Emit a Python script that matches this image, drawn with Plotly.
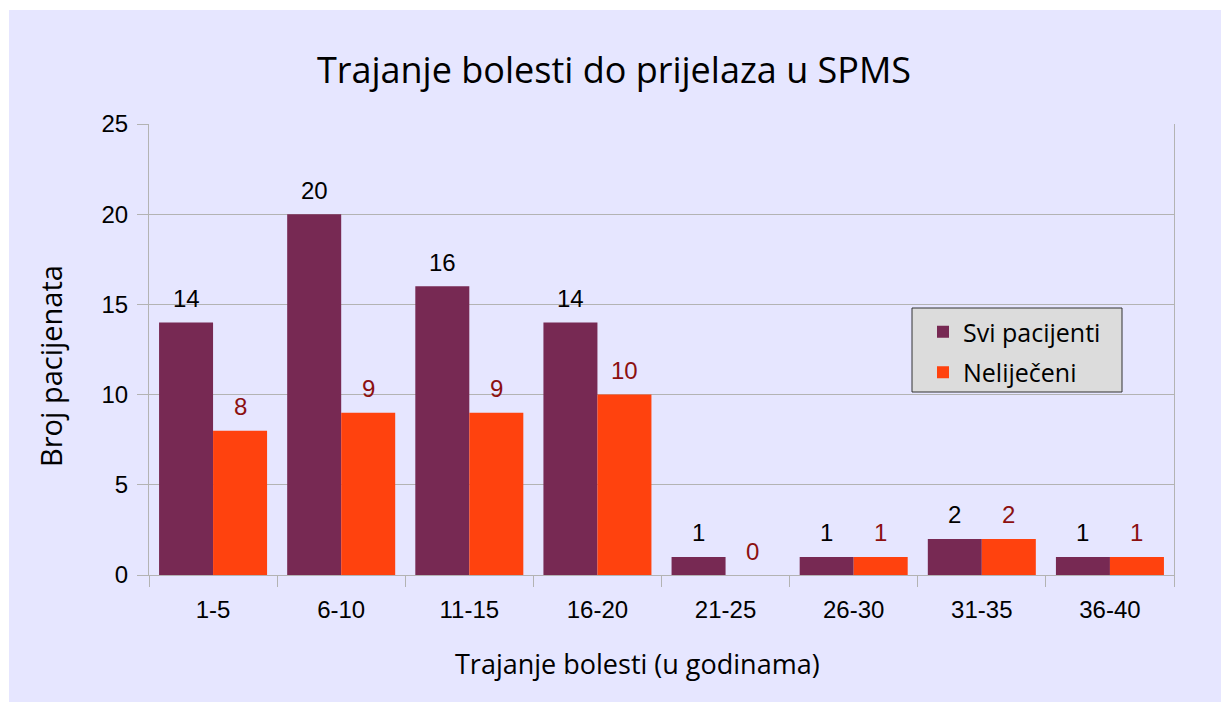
import plotly.graph_objects as go

categories = ["1-5", "6-10", "11-15", "16-20", "21-25", "26-30", "31-35", "36-40"]
svi_pacijenti = [14, 20, 16, 14, 1, 1, 2, 1]
nelijeceni = [8, 9, 9, 10, 0, 1, 2, 1]
series_names = ["Svi pacijenti", "Neliječeni"]
y_ticks = [0, 5, 10, 15, 20, 25]

W, H = 1221, 702
L, R, T, B = 149, 1221 - 1174, 124, 702 - 575
pw, ph = W - L - R, H - T - B

BG = "#E6E6FF"
C1 = "#772953"
C2 = "#FF420E"
GRID = "#B3B3B3"


def px_x(p):
    return (p - L) / pw


def px_y(p):
    return (H - B - p) / ph


fig = go.Figure()
fig.add_trace(go.Bar(x=categories, y=svi_pacijenti, name=series_names[0], legendgroup="a",
                     marker=dict(color=C1, line=dict(width=0))))
fig.add_trace(go.Bar(x=categories, y=nelijeceni, name=series_names[1], legendgroup="b",
                     marker=dict(color=C2, line=dict(width=0))))

annotations = []
half = pw / len(categories) * (1 - 0.157) / 4
for vals, col, sh in [(svi_pacijenti, "#000000", -half), (nelijeceni, "#8C1010", half)]:
    for c, v in zip(categories, vals):
        annotations.append(dict(x=c, y=v, xref="x", yref="y", text=str(v), showarrow=False,
                                xshift=sh, yshift=24, yanchor="middle",
                                font=dict(family="Liberation Sans", size=24, color=col)))

annotations.append(dict(x=px_x(637), y=px_y(663), xref="paper", yref="paper",
                        text="Trajanje bolesti (u godinama)", showarrow=False,
                        xanchor="center", yanchor="middle",
                        font=dict(family="Open Sans", size=27, color="#000000")))
annotations.append(dict(x=px_x(50), y=px_y(366), xref="paper", yref="paper",
                        text="Broj pacijenata", showarrow=False, textangle=-90,
                        xanchor="center", yanchor="middle",
                        font=dict(family="Open Sans", size=29, color="#000000")))

shapes = [
    # white page strips on the left and top
    dict(type="rect", xref="paper", yref="paper", layer="below",
         x0=px_x(-20), x1=px_x(9), y0=px_y(720), y1=px_y(-20),
         fillcolor="#FFFFFF", line=dict(width=0)),
    dict(type="rect", xref="paper", yref="paper", layer="below",
         x0=px_x(-20), x1=px_x(1240), y0=px_y(10), y1=px_y(-20),
         fillcolor="#FFFFFF", line=dict(width=0)),
    # legend box
    dict(type="rect", xref="paper", yref="paper", layer="above",
         x0=px_x(912), x1=px_x(1122), y0=px_y(392), y1=px_y(308),
         fillcolor="#DCDCDC", line=dict(width=1, color="#333333")),
]

fig.update_layout(
    width=W, height=H,
    margin=dict(l=L, r=R, t=T, b=B, pad=0),
    paper_bgcolor=BG,
    plot_bgcolor=BG,
    barmode="group",
    bargap=0.157,
    bargroupgap=0,
    title=dict(text="Trajanje bolesti do prijelaza u SPMS", x=614 / W, xanchor="center",
               y=1 - 70 / H, yanchor="middle", yref="container", xref="container",
               font=dict(family="Open Sans", size=36, color="#000000")),
    legend=dict(x=px_x(923), y=px_y(309), xanchor="left", yanchor="top",
                bgcolor="rgba(0,0,0,0)", borderwidth=0, traceorder="grouped",
                font=dict(family="Open Sans", size=25, color="#000000"),
                itemclick=False, tracegroupgap=5),
    showlegend=True,
    annotations=annotations,
    shapes=shapes,
    xaxis=dict(type="category", showgrid=False, showline=True, linecolor=GRID, linewidth=1,
               ticks="outside", tickson="boundaries", ticklen=11, tickcolor=GRID,
               ticklabelstandoff=13,
               tickfont=dict(family="Liberation Sans", size=24, color="#000000"),
               range=[-0.5, len(categories) - 0.5]),
    yaxis=dict(range=[0, 25], tickvals=y_ticks, showgrid=True, gridcolor=GRID, gridwidth=1,
               showline=True, linecolor=GRID, linewidth=1, mirror=True,
               ticks="outside", ticklen=11, tickcolor=GRID, zeroline=False,
               ticklabelstandoff=4,
               tickfont=dict(family="Liberation Sans", size=24, color="#000000")),
)

fig.write_html(
    "out.html",
    config={"displayModeBar": False},
    post_script="document.body.style.margin='0';document.body.style.overflow='hidden';"
                "document.documentElement.style.overflow='hidden';"
                "document.body.style.background='" + BG + "';",
)
